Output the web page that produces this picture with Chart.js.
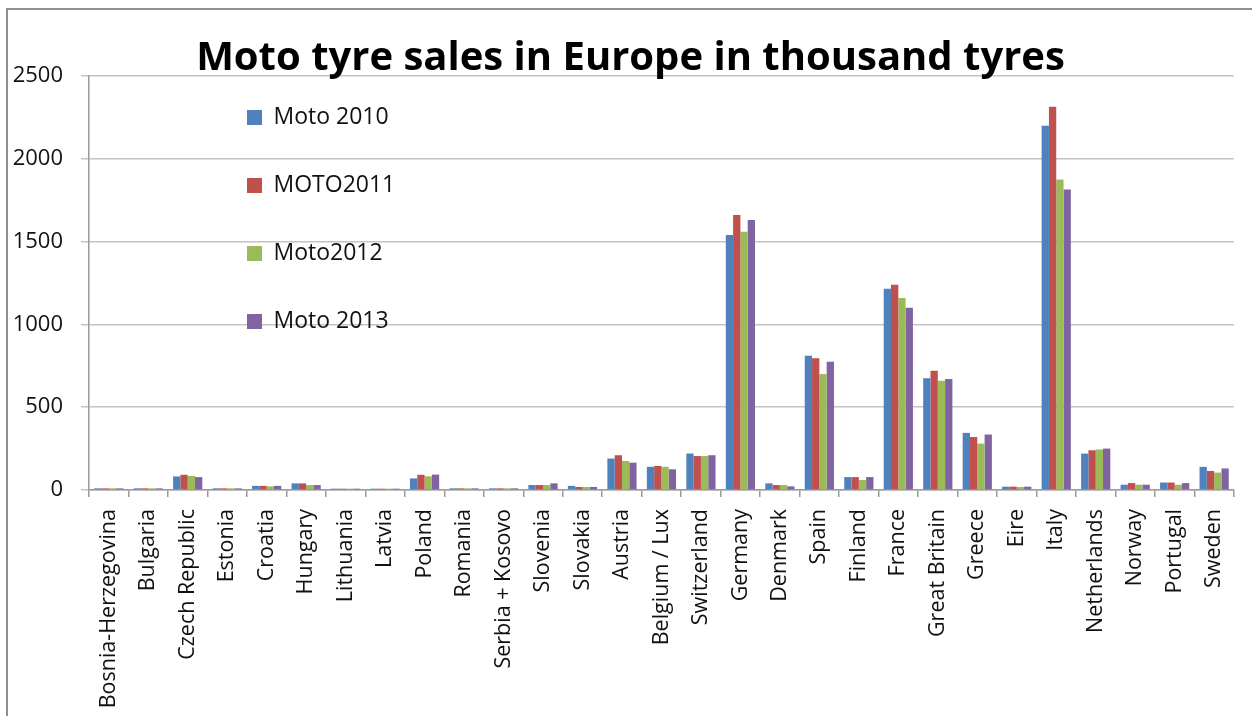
<!DOCTYPE html>
<html>
<head>
<meta charset="utf-8">
<script src="https://cdn.jsdelivr.net/npm/chart.js@4/dist/chart.umd.min.js"></script>
<style>
  html, body { margin: 0; padding: 0; background: #fff; overflow: hidden; }
  #frame { position: absolute; left: 6px; top: 8px; width: 1400px; height: 900px;
           border-left: 2px solid #8e8e8e; border-top: 2px solid #8e8e8e; }
  #wrap { position: absolute; left: 0; top: 0; width: 1252px; height: 716px; }
</style>
</head>
<body>
<div id="frame"></div>
<div id="wrap"><canvas id="c" width="1252" height="716"></canvas></div>
<script>
// Moto tyre sales per country, thousand tyres
const countries = ['Bosnia-Herzegovina', 'Bulgaria', 'Czech Republic', 'Estonia', 'Croatia', 'Hungary',
  'Lithuania', 'Latvia', 'Poland', 'Romania', 'Serbia + Kosovo', 'Slovenia', 'Slovakia', 'Austria',
  'Belgium / Lux', 'Switzerland', 'Germany', 'Denmark', 'Spain', 'Finland', 'France', 'Great Britain',
  'Greece', 'Eire', 'Italy', 'Netherlands', 'Norway', 'Portugal', 'Sweden'];

const moto2010 = [10, 10, 82, 10, 25, 40, 8, 8, 70, 10, 10, 30, 25, 190, 140, 220, 1540, 40, 810, 78, 1215, 675, 345, 20, 2200, 220, 32, 45, 140];
const moto2011 = [10, 10, 92, 10, 25, 40, 8, 8, 92, 10, 10, 30, 18, 210, 145, 205, 1660, 30, 795, 78, 1240, 720, 320, 20, 2315, 240, 42, 45, 115];
const moto2012 = [10, 10, 85, 10, 22, 30, 8, 8, 83, 10, 10, 30, 18, 175, 140, 205, 1560, 30, 700, 60, 1160, 660, 280, 18, 1875, 245, 32, 32, 105];
const moto2013 = [10, 10, 78, 10, 25, 30, 8, 8, 93, 10, 10, 40, 18, 165, 125, 210, 1630, 22, 775, 78, 1100, 670, 335, 20, 1815, 250, 32, 42, 130];

const seriesNames = ['Moto 2010', 'MOTO2011', 'Moto2012', 'Moto 2013'];
const seriesColors = ['#4F81BD', '#C0504D', '#9BBB59', '#8064A2'];
const yTicks = [0, 500, 1000, 1500, 2000, 2500];

const FONT = '"Open Sans", "DejaVu Sans", sans-serif';

// Places the legend block over the plot area, offset from the chart area's top-left corner
const legendShift = {
  id: 'legendShift',
  afterLayout(chart, args, opts) {
    const lg = chart.legend;
    if (!lg) return;
    const w = lg.right - lg.left, h = lg.bottom - lg.top;
    lg.left = chart.chartArea.left + opts.dx;
    lg.top = chart.chartArea.top + opts.dy;
    lg.right = lg.left + w;
    lg.bottom = lg.top + h;
  }
};

const values = [moto2010, moto2011, moto2012, moto2013];

new Chart(document.getElementById('c'), {
  type: 'bar',
  data: {
    labels: countries,
    datasets: values.map((v, i) => ({
      label: seriesNames[i],
      data: v,
      backgroundColor: seriesColors[i],
      borderWidth: 0,
      categoryPercentage: 0.74,
      barPercentage: 1.0
    }))
  },
  plugins: [legendShift],
  options: {
    responsive: false,
    animation: false,
    layout: { padding: { left: 12, right: 3, top: 0, bottom: 0 } },
    plugins: {
      title: {
        display: true,
        text: 'Moto tyre sales in Europe in thousand tyres',
        color: '#000',
        font: { family: FONT, size: 40, weight: 'bold' },
        padding: { top: 35, bottom: -7 }
      },
      legend: {
        position: 'chartArea',
        align: 'start',
        labels: {
          color: '#111',
          font: { family: FONT, size: 23 },
          boxWidth: 15,
          boxHeight: 15,
          padding: 45
        }
      },
      legendShift: { dx: 113, dy: -15 },
      tooltip: { enabled: false }
    },
    scales: {
      x: {
        offset: true,
        grid: {
          display: true,
          drawOnChartArea: false,
          drawTicks: true,
          tickLength: 7,
          color: '#9a9a9a',
          lineWidth: 1.5,
          offset: true
        },
        border: { display: true, color: '#9a9a9a', width: 1.5 },
        ticks: {
          autoSkip: false,
          minRotation: 90,
          maxRotation: 90,
          padding: 12,
          color: '#111',
          font: { family: FONT, size: 21.5 }
        },
        afterFit(scale) { scale.height = 226; }
      },
      y: {
        min: 0,
        max: 2500,
        afterBuildTicks(scale) { scale.ticks = yTicks.map(v => ({ value: v })); },
        grid: {
          color: '#c4c4c4',
          lineWidth: 1.5,
          tickLength: 8,
          drawTicks: true
        },
        border: { display: true, color: '#9a9a9a', width: 1.5 },
        ticks: {
          padding: 18,
          color: '#111',
          font: { family: FONT, size: 22 },
          callback: (v) => String(v)
        },
        afterFit(scale) { scale.width = 77; }
      }
    }
  }
});
</script>
</body>
</html>
